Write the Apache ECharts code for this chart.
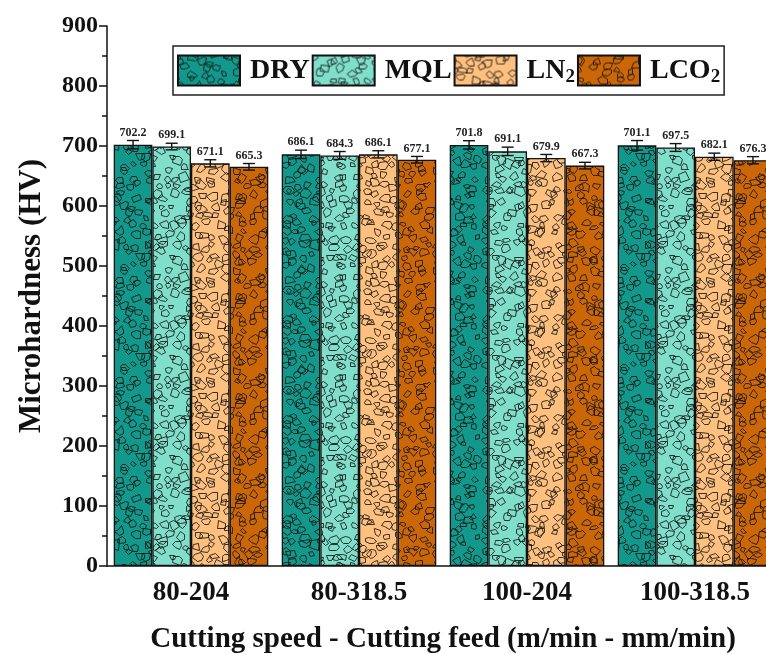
<!DOCTYPE html>
<html><head><meta charset="utf-8">
<script src="https://cdn.jsdelivr.net/npm/echarts/dist/echarts.min.js"></script>
<style>html,body{margin:0;padding:0;background:#fff}#c{width:766px;height:654px}</style>
</head><body><div id="c"></div>
<script>
const categories = ['80-204', '80-318.5', '100-204', '100-318.5'];
const seriesNames = ['DRY', 'MQL', 'LN2', 'LCO2'];
const dryValues = [702.2, 686.1, 701.8, 701.1];
const mqlValues = [699.1, 684.3, 691.1, 697.5];
const ln2Values = [671.1, 686.1, 679.9, 682.1];
const lco2Values = [665.3, 677.1, 667.3, 676.3];
const dryErrors = [7, 7, 7, 8];
const mqlErrors = [5.5, 6.5, 7, 6.5];
const ln2Errors = [6, 6, 6, 6];
const lco2Errors = [5.5, 5.5, 5.5, 6];
const yMin = 0, yMax = 900, yStep = 100;

const colors = ['#12998c', '#80dfca', '#fec07e', '#cc6708'];
const FONT = 'Liberation Serif';

// decorative granite-like texture (style only, not data)
function makePattern(fill, seed) {
  const S = 100;
  const c = document.createElement('canvas'); c.width = c.height = S;
  const g = c.getContext('2d');
  g.fillStyle = fill; g.fillRect(0, 0, S, S);
  let s = seed;
  const rnd = () => { s = (s * 16807) % 2147483647; return s / 2147483647; };
  g.strokeStyle = 'rgba(20,20,20,0.85)'; g.lineWidth = 1;
  const step = 10;
  for (let gy = 0; gy < S; gy += step) {
    for (let gx = 0; gx < S; gx += step) {
      const cx = gx + rnd() * step, cy = gy + rnd() * step;
      const n = 4 + Math.floor(rnd() * 4);
      const r0 = 3 + rnd() * 2.8;
      const a0 = rnd() * Math.PI * 2;
      const pts = [];
      for (let k = 0; k < n; k++) {
        const a = a0 + k * 2 * Math.PI / n + (rnd() - 0.5) * 0.7;
        const r = r0 * (0.65 + rnd() * 0.6);
        pts.push([Math.cos(a) * r, Math.sin(a) * r * (0.7 + rnd() * 0.3)]);
      }
      for (const ox of [-S, 0, S]) for (const oy of [-S, 0, S]) {
        g.beginPath();
        pts.forEach((p, k) => { const X = Math.round(cx + p[0] + ox) + 0.5, Y = Math.round(cy + p[1] + oy) + 0.5; k ? g.lineTo(X, Y) : g.moveTo(X, Y); });
        g.closePath(); g.stroke();
      }
    }
  }
  return { image: c, repeat: 'repeat' };
}

const valueSets = [dryValues, mqlValues, ln2Values, lco2Values];
const errorSets = [dryErrors, mqlErrors, ln2Errors, lco2Errors];
const CAT_GAP = 0.08;

const barSeries = seriesNames.map((name, i) => ({
  type: 'bar', name: name, data: valueSets[i],
  barGap: '0%', barCategoryGap: (CAT_GAP * 100) + '%',
  itemStyle: { color: makePattern(colors[i], 1000 + i * 7919), borderColor: '#111', borderWidth: 1.3 },
  z: 2
}));

const errSeries = seriesNames.map((name, i) => ({
  type: 'custom', name: name + ' err', z: 5,
  data: valueSets[i].map((v, k) => [k, v, errorSets[i][k]]),
  renderItem: function (params, api) {
    const idx = api.value(0), v = api.value(1), e = api.value(2);
    const c = api.coord([idx, v]);
    const band = api.size([1, 0])[0];
    const bw = band * (1 - CAT_GAP) / 4;
    const x = c[0] - band * (1 - CAT_GAP) / 2 + bw * (i + 0.5);
    const top = api.coord([idx, v + e])[1];
    const bot = api.coord([idx, v - e])[1];
    const cap = 6;
    const st = { stroke: '#111', lineWidth: 1.4 };
    return { type: 'group', children: [
      { type: 'line', shape: { x1: x, y1: top, x2: x, y2: bot }, style: st },
      { type: 'line', shape: { x1: x - cap, y1: top, x2: x + cap, y2: top }, style: st },
      { type: 'line', shape: { x1: x - cap, y1: bot, x2: x + cap, y2: bot }, style: st },
      { type: 'text', x: x, y: top - 2, style: { text: v.toFixed(1), align: 'center', verticalAlign: 'bottom',
        font: 'bold 12px "' + FONT + '"', fill: '#222' } }
    ] };
  }
}));

const sub = (n) => n === 'LN2' ? 'LN{sub|2}' : n === 'LCO2' ? 'LCO{sub|2}' : n;

const chart = echarts.init(document.getElementById('c'), null, { renderer: 'canvas' });
chart.setOption({
  animation: false,
  backgroundColor: '#fff',
  grid: { left: 107, width: 672, top: 26, height: 540, containLabel: false, outerBoundsMode: 'none' },
  legend: {
    data: seriesNames, left: 173, top: 46, icon: 'rect',
    itemWidth: 62, itemHeight: 30, itemGap: 2,
    padding: [8, 4, 8, 4], borderColor: '#222', borderWidth: 1.5,
    formatter: sub,
    textStyle: { fontFamily: FONT, fontWeight: 'bold', fontSize: 28, color: '#111', padding: [0, 0, 0, 5], lineHeight: 30,
      rich: { sub: { fontFamily: FONT, fontWeight: 'bold', fontSize: 19, color: '#111', lineHeight: 30, padding: [14, 0, 0, 0] } } }
  },
  xAxis: [{
    type: 'category', data: categories,
    axisLine: { lineStyle: { color: '#111', width: 1.5 } },
    axisTick: { length: 5, lineStyle: { color: '#111', width: 1.5 } },
    axisLabel: { fontFamily: FONT, fontWeight: 'bold', fontSize: 27, color: '#111', margin: 14 },
    name: 'Cutting speed - Cutting feed (m/min - mm/min)', nameLocation: 'middle', nameGap: 59,
    nameTextStyle: { fontFamily: FONT, fontWeight: 'bold', fontSize: 29, color: '#111' }
  }, {
    type: 'category', data: categories, position: 'bottom',
    axisLine: { show: false },
    axisTick: { alignWithLabel: true, length: 10, lineStyle: { color: '#111', width: 1.5 } },
    axisLabel: { show: false }
  }],
  yAxis: {
    type: 'value', min: yMin, max: yMax, interval: yStep,
    axisLine: { show: true, lineStyle: { color: '#111', width: 1.5 } },
    axisTick: { show: true, length: 8, lineStyle: { color: '#111', width: 1.5 } },
    minorTick: { show: true, splitNumber: 2, length: 5, lineStyle: { color: '#111', width: 1.5 } },
    splitLine: { show: false },
    axisLabel: { fontFamily: FONT, fontWeight: 'bold', fontSize: 24, color: '#111', margin: 9 },
    name: 'Microhardness (HV)', nameLocation: 'middle', nameGap: 60, nameRotate: 90,
    nameTextStyle: { fontFamily: FONT, fontWeight: 'bold', fontSize: 31, color: '#111' }
  },
  series: barSeries.concat(errSeries)
});
</script></body></html>
